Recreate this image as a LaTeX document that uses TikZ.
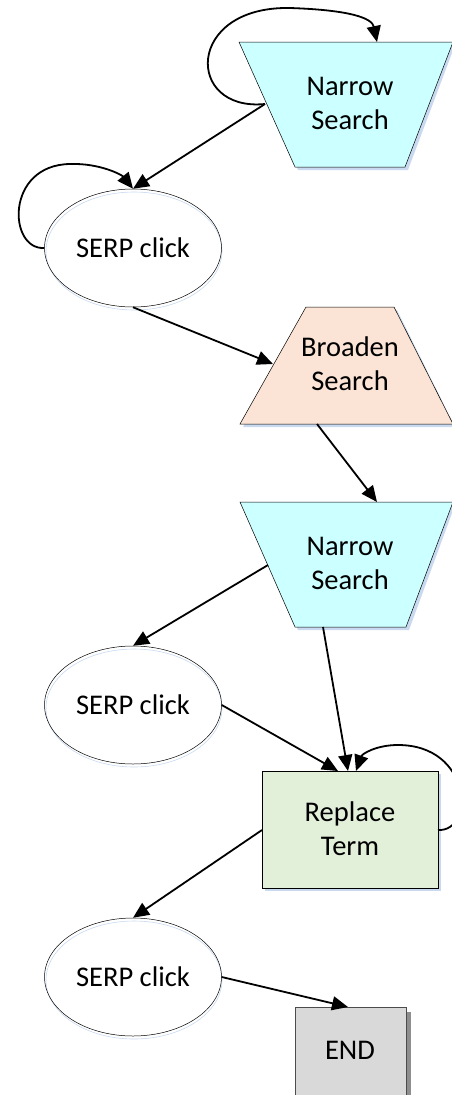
\documentclass[tikz,border=0pt]{standalone}
\usepackage{fontspec}
\setmainfont{Carlito}
\usetikzlibrary{arrows.meta,shapes.geometric}
\definecolor{narrowfill}{HTML}{CCFFFF}
\definecolor{broadfill}{HTML}{FBE4D5}
\definecolor{replfill}{HTML}{E2EFD9}
\definecolor{endfill}{HTML}{D9D9D9}
\definecolor{endshade}{HTML}{8E8E8E}
\definecolor{shadowblue}{HTML}{C9DAF0}
\begin{document}
\begin{tikzpicture}[x=1pt,y=-1pt,
  flow/.style={line width=1.8pt,-{Triangle[length=16pt,width=14pt]}},
  outline/.style={draw=black,line width=0.5pt},
  lbl/.style={font=\fontsize{28.5}{34}\selectfont,align=center,inner sep=0pt},
  serp/.style={ellipse,draw=black,line width=0.5pt,minimum width=177pt,
    minimum height=118pt,inner sep=0pt,font=\fontsize{28.5}{34}\selectfont},
  shade/.style={fill=shadowblue,draw=none}
]
\useasboundingbox (0,0) rectangle (452,1095);

% ---------- Narrow Search (top) ----------
\fill[shade] (242,45) -- (455,45) -- (408,170) -- (298,170) -- cycle;
\filldraw[outline,fill=narrowfill] (239,42) -- (453,42) -- (405,167) -- (295,167) -- cycle;
\node[lbl] (n1) at (350,103) {Narrow\\Search};
\coordinate (n1left) at (265,104);
\coordinate (n1top) at (377,42);

% ---------- SERP click 1 ----------
\draw[shadowblue,line width=0.6pt,fill=white] (134,251) ellipse [x radius=88pt,y radius=59pt];
\node[serp] (s1) at (133,248) {SERP click};

% ---------- Broaden Search ----------
\fill[shade] (309,310) -- (397,310) -- (455,427) -- (243,427) -- cycle;
\filldraw[outline,fill=broadfill] (306,307) -- (394,307) -- (453,424) -- (240,424) -- cycle;
\node[lbl] (b) at (350,364) {Broaden\\Search};
\coordinate (bleft) at (273,364);
\coordinate (bbot) at (317,424);

% ---------- Narrow Search (middle) ----------
\fill[shade] (243,505) -- (455,505) -- (409,630) -- (298,630) -- cycle;
\filldraw[outline,fill=narrowfill] (240,502) -- (453,502) -- (406,627) -- (295,627) -- cycle;
\node[lbl] (n2) at (350,563) {Narrow\\Search};
\coordinate (n2top) at (377,502);
\coordinate (n2left) at (268,565);
\coordinate (n2bot) at (323,627);

% ---------- SERP click 2 ----------
\draw[shadowblue,line width=0.6pt,fill=white] (134,708) ellipse [x radius=88pt,y radius=59pt];
\node[serp] (s2) at (133,705) {SERP click};

% ---------- Replace Term ----------
\fill[shade] (265,774) rectangle (441,891);
\filldraw[outline,fill=replfill] (262,771) rectangle (438,888);
\node[lbl] (r) at (350,829) {Replace\\Term};
\coordinate (rtopA) at (348,771);
\coordinate (rtopB) at (338,771);
\coordinate (rtopC) at (356,771);
\coordinate (rright) at (438,830);
\coordinate (rleft) at (262,830);

% ---------- SERP click 3 ----------
\draw[shadowblue,line width=0.6pt,fill=white] (134,980) ellipse [x radius=88pt,y radius=59pt];
\node[serp] (s3) at (133,977) {SERP click};

% ---------- END ----------
\fill[endshade] (300,1012) rectangle (411,1110);
\filldraw[draw=black!70,line width=0.5pt,fill=endfill] (295,1007) rectangle (406,1105);
\node[lbl] (e) at (350,1050) {END};
\coordinate (etop) at (348,1007);

% ---------- connectors ----------
\draw[flow] (n1left) .. controls (185,112) and (185,6) .. (290,8)
  .. controls (350,10) and (372,18) .. (n1top);
\draw[flow] (n1left) -- (s1.north);
\draw[flow] (s1.west) .. controls (8,250) and (5,165) .. (70,164)
  .. controls (100,163) and (122,175) .. (s1.north);
\draw[flow] (s1.south) -- (bleft);
\draw[flow] (bbot) -- (n2top);
\draw[flow] (n2left) -- (s2.north);
\draw[flow] (n2bot) -- (rtopA);
\draw[flow] (s2.east) -- (rtopB);
\draw[flow] (rright) .. controls (475,832) and (472,745) .. (398,745)
  .. controls (376,745) and (362,754) .. (rtopC);
\draw[flow] (rleft) -- (s3.north);
\draw[flow] (s3.east) -- (etop);
\end{tikzpicture}
\end{document}
